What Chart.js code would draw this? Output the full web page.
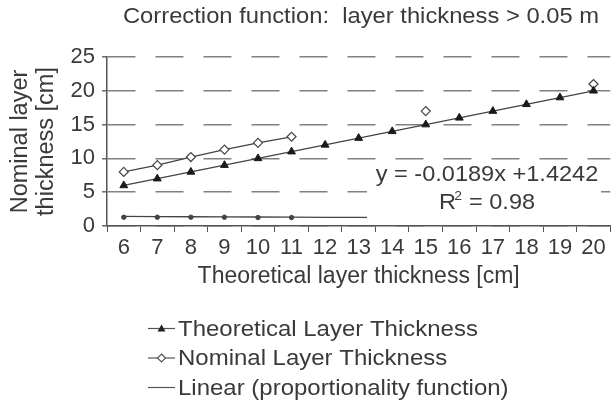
<!DOCTYPE html>
<html>
<head>
<meta charset="utf-8">
<script src="https://cdn.jsdelivr.net/npm/chart.js@4/dist/chart.umd.min.js"></script>
<style>
  html, body { margin: 0; padding: 0; background: #fff; }
  #wrap { width: 616px; height: 403px; }
</style>
</head>
<body>
<div id="wrap"><canvas id="chart"></canvas></div>
<script>
let categories = ["6", "7", "8", "9", "10", "11", "12", "13", "14", "15", "16", "17", "18", "19", "20"];
let theoretical = [6, 7, 8, 9, 10, 11, 12, 13, 14, 15, 16, 17, 18, 19, 20];
let nominal = [8, 9, 10.2, 11.3, 12.3, 13.2, null, null, null, 17, null, null, null, null, 21];
let linear = [1.41, 1.39, 1.37, 1.35, 1.33, 1.31, 1.29, 1.27, 1.25, 1.23, 1.22, 1.2, 1.18, 1.16, 1.14];
let linearDots = [1.3, 1.3, 1.3, 1.3, 1.25, 1.25, null, null, null, null, null, null, null, null, null];
let yTicks = [0, 5, 10, 15, 20, 25];

const FONT = "'Liberation Sans', Arial, sans-serif";
const TEXT = "#3a3a3a";

// the original lettering is a little wider than Liberation Sans, so stretch hand-drawn text a bit
function wideText(ctx, str, x, y, sx, align) {
  ctx.save();
  ctx.translate(x, y);
  ctx.scale(sx, 1);
  ctx.textAlign = align;
  ctx.fillText(str, 0, 0);
  ctx.restore();
}

const topTitle = {
  id: "topTitle",
  afterDraw(chart) {
    let ctx = chart.ctx;
    ctx.save();
    ctx.fillStyle = TEXT;
    ctx.font = "22px " + FONT;
    ctx.textBaseline = "middle";
    wideText(ctx, "Correction function:  layer thickness > 0.05 m", 361, 17, 1.08, "center");
    ctx.restore();
  },
};

// equation box drawn over the trend line
const equationBox = {
  id: "equationBox",
  afterDatasetsDraw(chart) {
    let ctx = chart.ctx;
    ctx.save();
    ctx.fillStyle = "#fff";
    ctx.fillRect(367, 163, 234, 58);
    ctx.fillStyle = TEXT;
    ctx.font = "22px " + FONT;
    ctx.textBaseline = "middle";
    wideText(ctx, "y = -0.0189x +1.4242", 487, 175, 1.07, "center");
    wideText(ctx, "R  = 0.98", 487, 203, 1.07, "center");
    ctx.font = "13px " + FONT;
    wideText(ctx, "2", 458, 196, 1.07, "center");
    ctx.restore();
  },
};

// vertical legend under the chart
const sideLegend = {
  id: "sideLegend",
  afterDraw(chart) {
    let ctx = chart.ctx;
    let items = [
      { text: "Theoretical Layer Thickness", marker: "tri" },
      { text: "Nominal Layer Thickness", marker: "dia" },
      { text: "Linear (proportionality function)", marker: null },
    ];
    ctx.save();
    ctx.font = "22px " + FONT;
    ctx.textBaseline = "middle";
    items.forEach((it, i) => {
      let y = 328.5 + i * 29.5;
      ctx.strokeStyle = "#555";
      ctx.lineWidth = 1.2;
      ctx.beginPath();
      ctx.moveTo(148, y);
      ctx.lineTo(175, y);
      ctx.stroke();
      if (it.marker === "tri") {
        ctx.fillStyle = "#222";
        ctx.beginPath();
        ctx.moveTo(161.5, y - 4);
        ctx.lineTo(165.5, y + 3);
        ctx.lineTo(157.5, y + 3);
        ctx.closePath();
        ctx.fill();
      } else if (it.marker === "dia") {
        ctx.fillStyle = "#fff";
        ctx.beginPath();
        ctx.moveTo(161.5, y - 4);
        ctx.lineTo(165.5, y);
        ctx.lineTo(161.5, y + 4);
        ctx.lineTo(157.5, y);
        ctx.closePath();
        ctx.fill();
        ctx.stroke();
      }
      ctx.fillStyle = TEXT;
      wideText(ctx, it.text, 178, y + 1, 1.09, "left");
    });
    ctx.restore();
  },
};

new Chart(document.querySelector("#chart"), {
  type: "line",
  data: {
    labels: categories,
    datasets: [
      {
        label: "Theoretical Layer Thickness",
        data: theoretical,
        borderColor: "#444",
        borderWidth: 1.3,
        pointStyle: "triangle",
        pointRadius: 4.5,
        pointBackgroundColor: "#1a1a1a",
        pointBorderColor: "#1a1a1a",
        pointBorderWidth: 1,
      },
      {
        label: "Nominal Layer Thickness",
        data: nominal,
        borderColor: "#444",
        borderWidth: 1.3,
        spanGaps: false,
        pointStyle: "rectRot",
        pointRadius: 4.5,
        pointBackgroundColor: "#fff",
        pointBorderColor: "#444",
        pointBorderWidth: 1.2,
      },
      {
        label: "Linear (proportionality function)",
        data: linear,
        borderColor: "#444",
        borderWidth: 1.3,
        pointRadius: 0,
      },
      {
        label: "ratio",
        data: linearDots,
        showLine: false,
        pointRadius: 2.2,
        pointBackgroundColor: "#444",
        pointBorderColor: "#444",
      },
    ],
  },
  plugins: [topTitle, equationBox, sideLegend],
  options: {
    responsive: true,
    maintainAspectRatio: false,
    animation: false,
    layout: { padding: { left: 0, right: 2, top: 57, bottom: 113 } },
    plugins: {
      legend: { display: false },
      tooltip: { enabled: false },
      title: { display: false },
    },
    scales: {
      x: {
        offset: true,
        afterFit: (scale) => {
          scale.height = 64;
        },
        grid: {
          offset: true,
          drawOnChartArea: false,
          drawTicks: true,
          tickLength: 6,
          tickColor: "#555",
        },
        border: { color: "#555", width: 1.5 },
        ticks: {
          color: TEXT,
          font: { family: FONT, size: 22 },
          padding: 3,
          maxRotation: 0,
          autoSkip: false,
        },
        title: {
          display: true,
          text: "Theoretical layer thickness [cm]",
          color: TEXT,
          font: { family: FONT, size: 23 },
          padding: { top: 0, bottom: 0 },
        },
      },
      y: {
        min: 0,
        max: 25,
        afterBuildTicks: (scale) => {
          scale.ticks = yTicks.map((v) => ({ value: v }));
        },
        afterFit: (scale) => {
          scale.width = 107;
        },
        grid: {
          color: "#808080",
          lineWidth: 1.6,
          tickLength: 5,
          tickColor: "#555",
          tickWidth: 1.3,
          tickBorderDash: [],
        },
        border: { color: "#555", width: 1.5, dash: [28, 20] },
        ticks: {
          color: TEXT,
          font: { family: FONT, size: 22 },
          padding: 7,
        },
        title: {
          display: true,
          text: ["Nominal layer", "thickness [cm]"],
          color: TEXT,
          font: { family: FONT, size: 23.5, lineHeight: 1.1 },
          padding: { top: 8, bottom: 0 },
        },
      },
    },
  },
});
</script>
</body>
</html>
